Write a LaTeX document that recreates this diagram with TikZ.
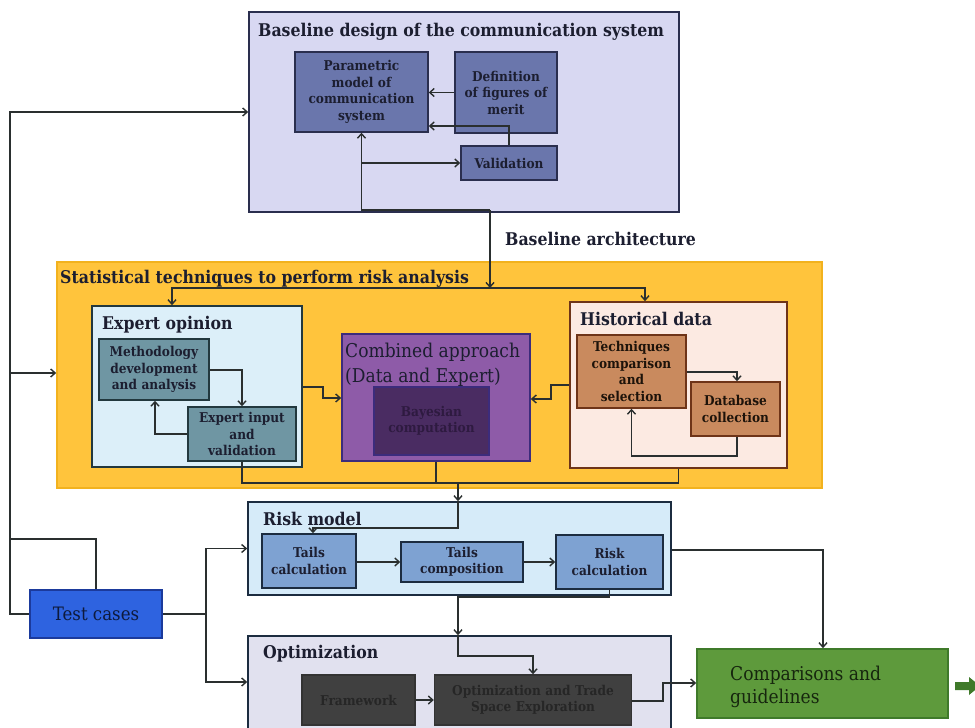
\documentclass[tikz,border=0pt]{standalone}
\usepackage{fontspec}
\setmainfont{DejaVu Serif}[FakeStretch=0.9]
\usetikzlibrary{arrows.meta,calc}

\definecolor{lineC}{HTML}{2A2F2F}
\definecolor{baseBG}{HTML}{D8D8F2}
\definecolor{baseBox}{HTML}{6A76AC}
\definecolor{baseEdge}{HTML}{2A2E4E}
\definecolor{statBG}{HTML}{FFC43C}
\definecolor{statEdge}{HTML}{F2B21E}
\definecolor{expBG}{HTML}{DCEFF9}
\definecolor{expBox}{HTML}{6F96A3}
\definecolor{expEdge}{HTML}{22383E}
\definecolor{combBG}{HTML}{8E5BA8}
\definecolor{combEdge}{HTML}{3C2C7C}
\definecolor{bayBox}{HTML}{4A2C62}
\definecolor{bayText}{HTML}{2E1A40}
\definecolor{histBG}{HTML}{FCEAE2}
\definecolor{histBox}{HTML}{C98A5E}
\definecolor{histEdge}{HTML}{6E3418}
\definecolor{riskBG}{HTML}{D6EBF9}
\definecolor{riskBox}{HTML}{7EA2D2}
\definecolor{riskEdge}{HTML}{1C2C40}
\definecolor{optBG}{HTML}{E1E1EF}
\definecolor{optBox}{HTML}{404040}
\definecolor{optText}{HTML}{262626}
\definecolor{cmpBG}{HTML}{5E9A3C}
\definecolor{cmpEdge}{HTML}{3F7A2A}
\definecolor{cmpText}{HTML}{16260E}
\definecolor{testBG}{HTML}{2E63E0}
\definecolor{testEdge}{HTML}{1B3A9C}
\definecolor{testText}{HTML}{0E1A3C}
\definecolor{darkText}{HTML}{1C1E30}

\tikzset{
  arr/.style={draw=lineC, line width=1.4pt, -{Straight Barb[length=4.5pt,width=8pt]}},
  wire/.style={draw=lineC, line width=1.4pt},
  panel/.style={draw, line width=1.6pt, inner sep=0pt},
  cell/.style={draw, line width=1.4pt, align=center, inner sep=1pt,
    font=\bfseries\fontsize{13.5}{16.5}\selectfont, text=darkText},
  ttl/.style={inner sep=0pt, anchor=base west, text=darkText,
    font=\bfseries\fontsize{17.5}{20}\selectfont},
  bigtxt/.style={inner sep=0pt, anchor=base west,
    font=\fontsize{19}{23}\selectfont},
}

\begin{document}
\begin{tikzpicture}[x=1pt,y=-1pt]
\clip (0,0) rectangle (975,728);
\fill[white] (0,0) rectangle (975,728);

% ---------- baseline design block ----------
\node[panel, draw=baseEdge, fill=baseBG, minimum width=430pt, minimum height=200pt] (base) at (464,112) {};
\node[ttl] (baseT) at (258,36) {Baseline design of the communication system};
\node[cell, draw=baseEdge, fill=baseBox, minimum width=133pt, minimum height=80pt, text width=127pt] (param) at (361.5,92) {Parametric\\model of\\communication\\system};
\node[cell, draw=baseEdge, fill=baseBox, minimum width=102pt, minimum height=81pt, text width=96pt] (defn) at (506,92.5) {Definition\\of figures of\\merit};
\node[cell, draw=baseEdge, fill=baseBox, minimum width=96pt, minimum height=34pt, text width=90pt] (valid) at (509,163) {Validation};

\node[ttl] (archT) at (505,245) {Baseline architecture};

% ---------- statistical techniques block ----------
\node[panel, draw=statEdge, fill=statBG, minimum width=765pt, minimum height=226pt] (stat) at (439.5,375) {};
\node[ttl] (statT) at (60,283) {Statistical techniques to perform risk analysis};

\node[panel, draw=expEdge, fill=expBG, minimum width=210pt, minimum height=161pt] (expert) at (197,386.5) {};
\node[ttl] (expertT) at (102,329) {Expert opinion};
\node[cell, draw=expEdge, fill=expBox, minimum width=110pt, minimum height=61pt, text width=106pt] (method) at (154,369.5) {Methodology\\development\\and analysis};
\node[cell, draw=expEdge, fill=expBox, minimum width=108pt, minimum height=54pt, text width=104pt] (einput) at (242,434) {Expert input\\and\\validation};

\node[panel, draw=combEdge, fill=combBG, minimum width=188pt, minimum height=127pt] (comb) at (436,397.5) {};
\node[bigtxt, text=darkText] (combT1) at (345,357) {Combined approach};
\node[bigtxt, text=darkText] (combT2) at (345,382) {(Data and Expert)};
\node[cell, draw=combEdge, fill=bayBox, text=bayText, minimum width=115pt, minimum height=68pt, text width=110pt] (bayes) at (431.5,421) {Bayesian\\computation};

\node[panel, draw=histEdge, fill=histBG, minimum width=217pt, minimum height=166pt] (hist) at (678.5,385) {};
\node[ttl] (histT) at (580,325) {Historical data};
\node[cell, draw=histEdge, fill=histBox, text=black!85!brown, minimum width=109pt, minimum height=73pt, text width=105pt] (tech) at (631.5,371.5) {Techniques\\comparison\\and\\selection};
\node[cell, draw=histEdge, fill=histBox, text=black!85!brown, minimum width=89pt, minimum height=54pt, text width=85pt] (dbase) at (735.5,409) {Database\\collection};

% ---------- risk model block ----------
\node[panel, draw=riskEdge, fill=riskBG, minimum width=423pt, minimum height=93pt] (risk) at (459.5,548.5) {};
\node[ttl] (riskT) at (263,525) {Risk model};
\node[cell, draw=riskEdge, fill=riskBox, minimum width=94pt, minimum height=54pt, text width=90pt] (tcalc) at (309,561) {Tails\\calculation};
\node[cell, draw=riskEdge, fill=riskBox, minimum width=122pt, minimum height=40pt, text width=118pt] (tcomp) at (462,562) {Tails\\composition};
\node[cell, draw=riskEdge, fill=riskBox, minimum width=107pt, minimum height=54pt, text width=103pt] (rcalc) at (609.5,562) {Risk\\calculation};

% ---------- optimization block ----------
\node[panel, draw=riskEdge, fill=optBG, minimum width=423pt, minimum height=105pt] (opt) at (459.5,688.5) {};
\node[ttl] (optT) at (263,658) {Optimization};
\node[cell, draw=black!80, fill=optBox, text=optText, minimum width=113pt, minimum height=50pt, text width=109pt] (frame) at (358.5,700) {Framework};
\node[cell, draw=black!80, fill=optBox, text=optText, minimum width=197pt, minimum height=50pt, text width=193pt] (otrade) at (533,700) {Optimization and Trade\\Space Exploration};

% ---------- comparisons and test cases ----------
\node[panel, draw=cmpEdge, fill=cmpBG, minimum width=251pt, minimum height=69pt] (compar) at (822.5,683.5) {};
\node[bigtxt, text=cmpText] (comparT1) at (730,680) {Comparisons and};
\node[bigtxt, text=cmpText] (comparT2) at (730,703) {guidelines};

\node[panel, draw=testEdge, fill=testBG, text=testText, font=\fontsize{18.5}{22}\selectfont, minimum width=132pt, minimum height=48pt] (test) at (96,614) {Test cases};

% outgoing block arrow at the right edge
\fill[cmpEdge] (955,682) -- (969,682) -- (969,677) -- (980,686) -- (969,695) -- (969,690) -- (955,690) -- cycle;

% ---------- connectors: baseline block ----------
\draw[arr] (defn.west) -- (defn.west -| param.east);
\coordinate (k1) at (509,126);
\draw[arr] (valid.north) -- (k1) -- (k1 -| param.east);
\coordinate (j2) at (490,210);
\draw[arr] (j2) -- (param.south |- j2) -- (param.south);
\draw[arr] (param.south |- valid.west) -- (valid.west);
\coordinate (j3) at (490,288);
\draw[arr] (j2) -- (j3);
\coordinate (j4) at (172,288);
\coordinate (j5) at (645,288);
\draw[arr] (j3) -- (j4) -- (j4 |- expert.north);
\draw[arr] (j3) -- (j5) -- (j5 |- hist.north);

% ---------- connectors: test cases trunk ----------
\coordinate (l1) at (10,112);
\coordinate (l2) at (10,373);
\coordinate (l3) at (10,539);
\draw[arr] (test.west) -- (test.west -| l1) -- (l1) -- (l1 -| base.west);
\draw[arr] (l2) -- (l2 -| stat.west);
\draw[wire] (test.north) -- (test.north |- l3) -- (l3);
\coordinate (r1) at (206,614);
\coordinate (r2) at (206,682);
\draw[arr] (test.east) -- (r1) |- (risk.west);
\draw[arr] (r1) -- (r2) -- (r2 -| opt.west);

% ---------- connectors: statistical block ----------
\coordinate (m1) at (242,370);
\draw[arr] (m1 -| method.east) -- (m1) -- (einput.north);
\coordinate (m2) at (155,434);
\draw[arr] (einput.west) -- (m2) -- (m2 |- method.south);
\coordinate (e1) at (323,387);
\coordinate (e2) at (323,398);
\draw[arr] (e1 -| expert.east) -- (e1) -- (e2) -- (e2 -| comb.west);
\coordinate (h1) at (551,385);
\coordinate (h2) at (551,399);
\draw[arr] (h1 -| hist.west) -- (h1) -- (h2) -- (h2 -| comb.east);
\coordinate (d1) at (737,372);
\draw[arr] (d1 -| tech.east) -- (d1) -- (d1 |- dbase.north);
\coordinate (d2) at (737,456);
\coordinate (d3) at (631.5,456);
\draw[arr] (d2 |- dbase.south) -- (d2) -- (d3) -- (tech.south);

% ---------- connectors: into the risk model ----------
\coordinate (b1) at (458,483);
\draw[wire] (einput.south) |- (b1);
\draw[wire] (comb.south) -- (comb.south |- b1);
\draw[wire] (hist.south) |- (b1);
\draw[arr] (b1) -- (b1 |- risk.north);
\coordinate (b3) at (458,528);
\coordinate (b4) at (313,528);
\draw[arr] (b1 |- risk.north) -- (b3) -- (b4) -- (b4 |- tcalc.north);
\draw[arr] (tcalc.east |- tcomp.west) -- (tcomp.west);
\draw[arr] (tcomp.east) -- (tcomp.east -| rcalc.west);
\coordinate (q1) at (823,550);
\draw[arr] (q1 -| risk.east) -- (q1) -- (q1 |- compar.north);

% ---------- connectors: into optimization ----------
\coordinate (p1) at (609.5,597);
\coordinate (p2) at (458,597);
\draw[arr] (rcalc.south) -- (p1) -- (p2) -- (p2 |- opt.north);
\coordinate (p3) at (458,656);
\coordinate (p4) at (533,656);
\draw[arr] (p2 |- opt.north) -- (p3) -- (p4) -- (otrade.north);
\draw[arr] (frame.east) -- (frame.east -| otrade.west);
\coordinate (o1) at (663,701);
\coordinate (o2) at (663,683);
\draw[arr] (o1 -| otrade.east) -- (o1) -- (o2) -- (o2 -| compar.west);
\end{tikzpicture}
\end{document}
